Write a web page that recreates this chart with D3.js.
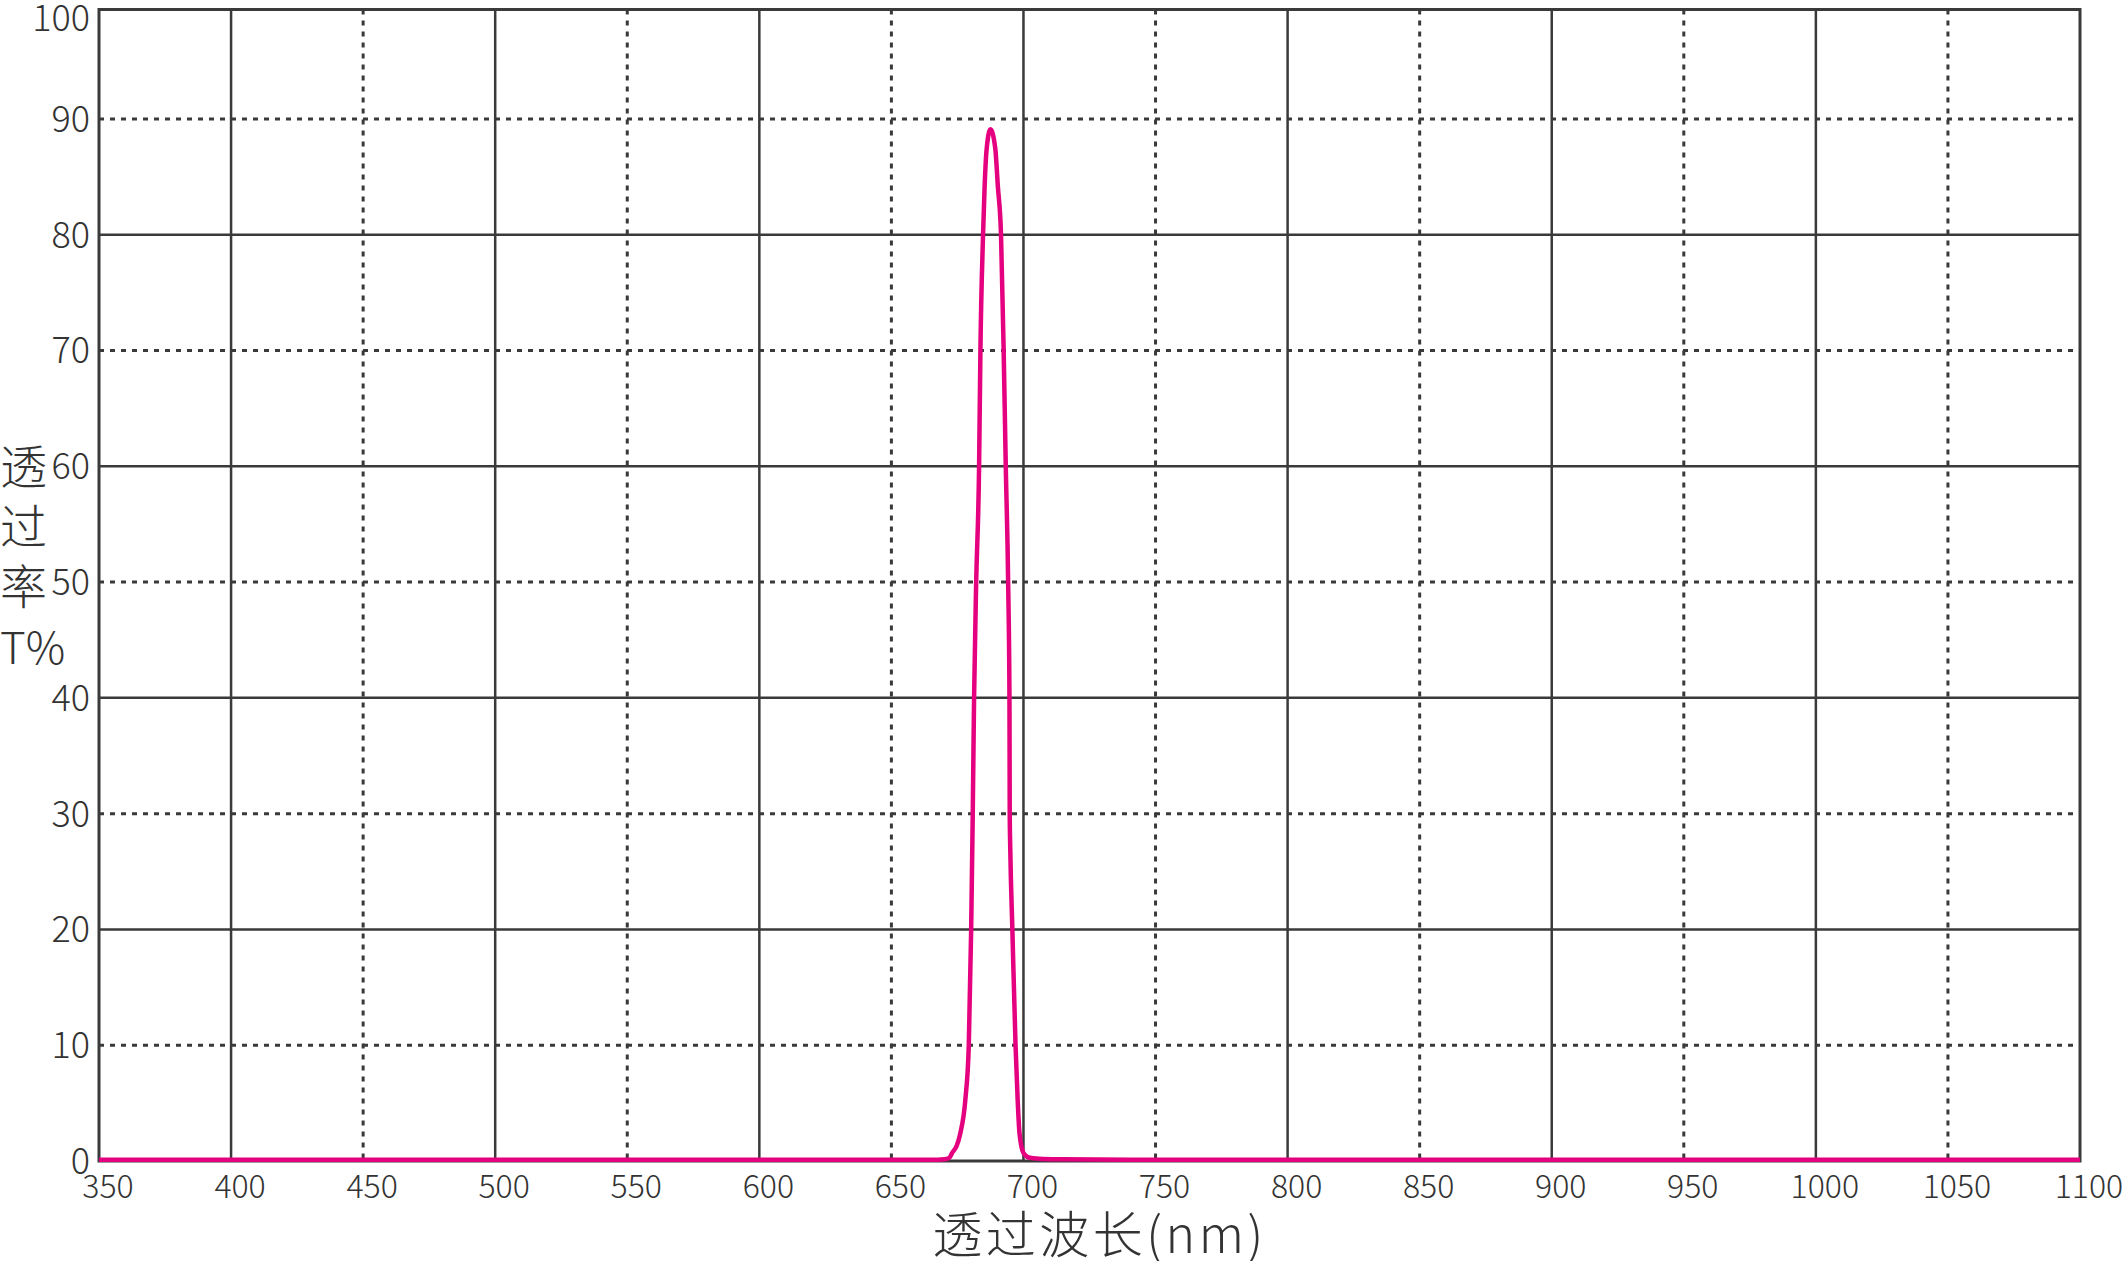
<!DOCTYPE html>
<html>
<head>
<meta charset="utf-8">
<script src="https://cdn.jsdelivr.net/npm/d3@7"></script>
<style>
  body { margin: 0; background: #fff; }
  text { font-family: "Noto Sans CJK SC", "Noto Sans", sans-serif; font-weight: 300; fill: #333; }
</style>
</head>
<body>
<div id="chart"></div>
<script>
// wavelength (nm) and transmittance (%)
const wavelengths = [350, 500, 600, 650, 665, 670, 672, 673, 674.7, 676.1, 678, 679.3, 680.2, 680.8, 681.3,
  682.1, 683.2, 683.7, 684.7, 685.3, 686.1, 687.5, 689.3, 690.3, 691.5, 692.5, 693.3, 694.2, 694.7,
  694.8, 695.0, 695.8, 697.0, 697.8, 698.5, 700.0, 702, 706, 715, 740, 800, 900, 1000, 1100];
const transmittance = [0.1, 0.1, 0.1, 0.1, 0.1, 0.15, 0.3, 0.7, 1.3, 2.4, 5.3, 10, 20, 30, 40,
  50, 60, 70, 80, 84.2, 87.5, 89.1, 87.5, 84.2, 80, 70, 60, 50, 40,
  30, 27, 20, 10, 5.3, 2.4, 0.7, 0.3, 0.2, 0.15, 0.1, 0.1, 0.1, 0.1, 0.1];

const xTicks = [350, 400, 450, 500, 550, 600, 650, 700, 750, 800, 850, 900, 950, 1000, 1050, 1100];
const yTicks = [0, 10, 20, 30, 40, 50, 60, 70, 80, 90, 100];
const yTitle = ["透", "过", "率", "T%"];
const xTitle = "透过波长(nm)";

const width = 2127, height = 1261;
const margin = { top: 9.5, right: 47, bottom: 100, left: 99 };
const innerW = width - margin.left - margin.right;
const innerH = height - margin.top - margin.bottom;
const yFrameTop = 99.45; // the frame is drawn a touch below the 100 mark

const x = d3.scaleLinear().domain([350, 1100]).range([0, innerW]);
const y = d3.scaleLinear().domain([0, yFrameTop]).range([innerH, 0]);

const svg = d3.select("#chart").append("svg")
  .attr("width", width)
  .attr("height", height);

const chart = svg.append("g")
  .attr("transform", `translate(${margin.left},${margin.top})`);

const gridColor = "#3a3a3a";

// vertical grid: solid every 100 nm, dotted at the 50s
chart.append("g").selectAll("line")
  .data(xTicks.slice(1, -1))
  .join("line")
  .attr("x1", d => x(d)).attr("x2", d => x(d))
  .attr("y1", 0).attr("y2", innerH)
  .attr("stroke", gridColor)
  .attr("stroke-width", d => d % 100 === 0 ? 2.5 : 3)
  .attr("stroke-dasharray", d => d % 100 === 0 ? null : "5,6");

// horizontal grid: solid every 20 %, dotted between
chart.append("g").selectAll("line")
  .data(yTicks.slice(1, -1))
  .join("line")
  .attr("x1", 0).attr("x2", innerW)
  .attr("y1", d => y(d)).attr("y2", d => y(d))
  .attr("stroke", gridColor)
  .attr("stroke-width", d => d % 20 === 0 ? 2.5 : 3)
  .attr("stroke-dasharray", d => d % 20 === 0 ? null : "5,6");

// frame
chart.append("rect")
  .attr("x", 0).attr("y", 0)
  .attr("width", innerW).attr("height", innerH)
  .attr("fill", "none")
  .attr("stroke", gridColor)
  .attr("stroke-width", 3);

// y tick labels
chart.append("g").selectAll("text")
  .data(yTicks)
  .join("text")
  .attr("x", -9)
  .attr("y", d => Math.max(y(d), 9))
  .attr("dy", "0.36em")
  .attr("text-anchor", "end")
  .style("font-size", "36px")
  .text(d => d);

// x tick labels
chart.append("g").selectAll("text")
  .data(xTicks)
  .join("text")
  .attr("x", d => x(d) + 9)
  .attr("y", innerH + 37)
  .attr("text-anchor", "middle")
  .style("font-size", "32px")
  .text(d => d);

// axis titles
chart.append("text")
  .attr("x", innerW / 2 + 10)
  .attr("y", innerH + 92)
  .attr("text-anchor", "middle")
  .style("font-size", "50px")
  .style("letter-spacing", "3.5px")
  .text(xTitle);

svg.append("g").selectAll("text")
  .data(yTitle)
  .join("text")
  .attr("x", 0)
  .attr("y", (d, i) => 484 + i * 60)
  .style("font-size", d => d === "T%" ? "44px" : "47px")
  .text(d => d);

// transmission curve
const points = wavelengths.map((w, i) => [w, transmittance[i]]);
const line = d3.line()
  .x(d => x(d[0]))
  .y(d => y(d[1]))
  .curve(d3.curveMonotoneX);

chart.append("path")
  .datum(points)
  .attr("d", line)
  .attr("fill", "none")
  .attr("stroke", "#e4007f")
  .attr("stroke-width", 4.5)
  .attr("stroke-linejoin", "round");
</script>
</body>
</html>
